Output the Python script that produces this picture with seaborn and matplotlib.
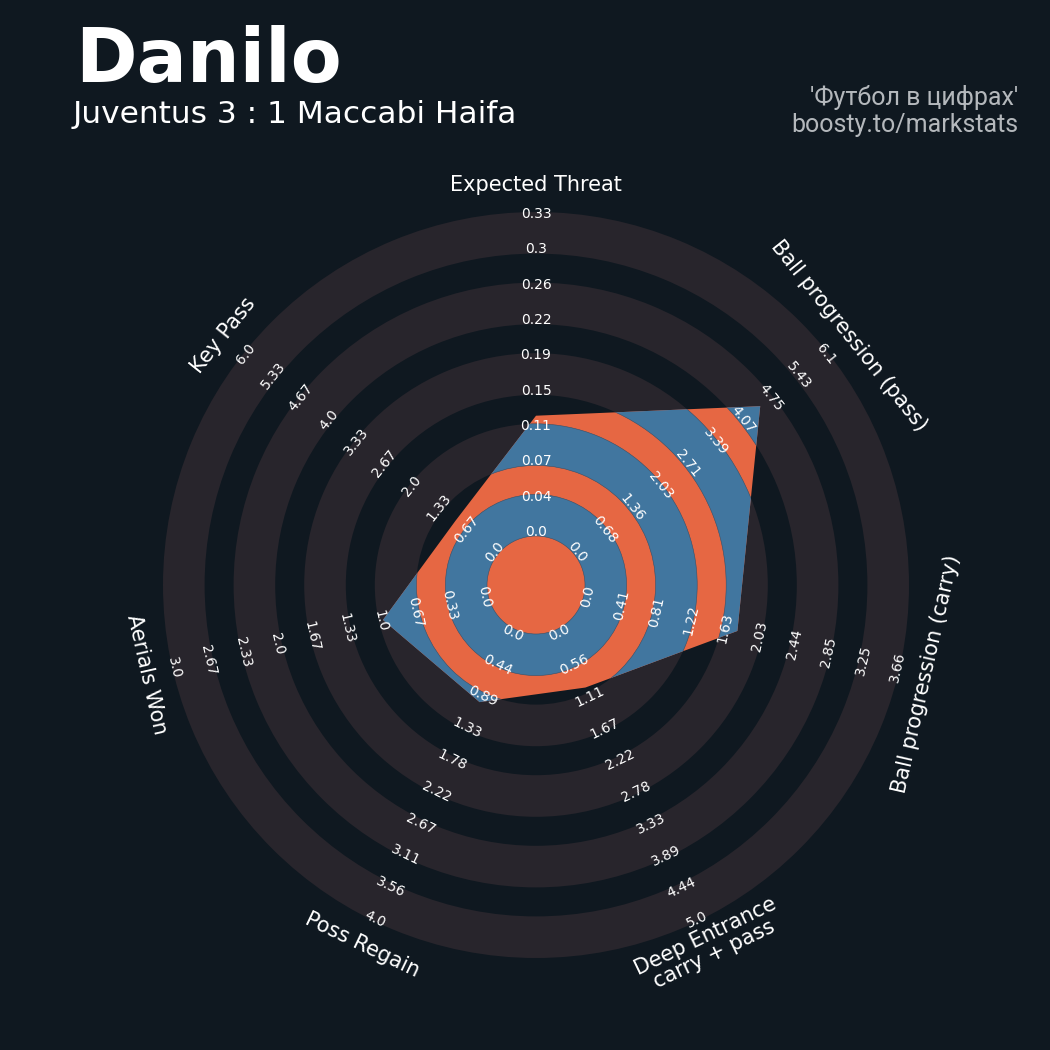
import numpy as np
import matplotlib
matplotlib.use("Agg")
import matplotlib.pyplot as plt
from matplotlib.patches import Wedge
import seaborn as sns

# --- data ---
params = ["Expected Threat", "Ball progression (pass)", "Ball progression (carry)",
          "Deep Entrance\ncarry + pass", "Poss Regain", "Aerials Won", "Key Pass"]
min_range = [0, 0, 0, 0, 0, 0, 0]
max_range = [0.334, 6.104, 3.66, 5.0, 4.0, 3.0, 6.0]
values = [0.124, 4.48, 1.78, 1.0, 1.0, 1.0, 1.0]
num_labels = 10

player = "Danilo"
match = "Juventus 3 : 1 Maccabi Haifa"
credit = "'Футбол в цифрах'\nboosty.to/markstats"

# --- style ---
BG = "#0f1820"
RING = "#28252c"
BLUE = "#41769f"
ORANGE = "#e66743"

sns.set_style("dark", {"axes.facecolor": BG, "figure.facecolor": BG})
plt.rcParams["font.family"] = ["DejaVu Sans"]

# radar geometry (axes units = pixels)
R_IN, R_OUT = 49, 373
GAP = 29
BAND = (R_OUT - R_IN - 4 * GAP) / 5

fig = plt.figure(figsize=(10.5, 10.5), dpi=100)
ax = fig.add_axes([0, 0, 1, 1])
ax.set_xlim(-536, 514)
ax.set_ylim(-465, 585)
ax.set_aspect("equal")
ax.axis("off")

band_edges = [(R_IN + k * (BAND + GAP), R_IN + k * (BAND + GAP) + BAND) for k in range(5)]

# background rings
for lo, hi in band_edges:
    ax.add_patch(Wedge((0, 0), hi, 0, 360, width=hi - lo, facecolor=RING, lw=0, zorder=1))

# polygon
n = len(params)
theta = np.deg2rad(90 - np.arange(n) * 360 / n)
radii = [R_IN + (v - lo) / (hi - lo) * (R_OUT - R_IN)
         for v, lo, hi in zip(values, min_range, max_range)]
xs = np.array(radii) * np.cos(theta)
ys = np.array(radii) * np.sin(theta)
poly = ax.fill(xs, ys, facecolor=ORANGE, lw=0, zorder=2)[0]

# rings inside the polygon
for lo, hi in band_edges:
    w = Wedge((0, 0), hi, 0, 360, width=hi - lo, facecolor=BLUE,
              edgecolor="#34506a", lw=0.4, zorder=3)
    ax.add_patch(w)
    w.set_clip_path(poly)


def upright(deg):
    return (deg + 90) % 180 - 90


# range labels
label_r = np.linspace(R_IN + 4, R_OUT - 2, num_labels)
for i in range(n):
    t = theta[i]
    rot = upright(np.rad2deg(t) - 90)
    vals = np.linspace(min_range[i], max_range[i], num_labels)
    for r, v in zip(label_r, vals):
        ax.text(r * np.cos(t), r * np.sin(t), str(round(float(v), 2)),
                ha="center", va="center", rotation=rot, rotation_mode="anchor",
                fontsize=10, color="white", zorder=5)

# parameter labels
R_PARAM = 400
for i, p in enumerate(params):
    t = theta[i]
    rot = upright(np.rad2deg(t) - 90)
    ax.text(R_PARAM * np.cos(t), R_PARAM * np.sin(t), p, ha="center", va="center",
            rotation=rot, rotation_mode="anchor", fontsize=15, color="white",
            multialignment="center", linespacing=1.0, zorder=5)

# titles
fig.text(0.072, 1 - 82 / 1050, player, fontsize=53.5, fontweight="bold",
         color="white", ha="left", va="baseline")
fig.text(0.069, 1 - 123 / 1050, match, fontsize=22.5, color="white",
         ha="left", va="baseline")
fig.text(0.9695, 1 - 132 / 1050, credit, fontsize=18, color="#b4b8bc",
         ha="right", va="baseline", family=["Roboto", "DejaVu Sans"],
         linespacing=1.15, multialignment="right")

fig.savefig("out.png", dpi=100, facecolor=BG)
